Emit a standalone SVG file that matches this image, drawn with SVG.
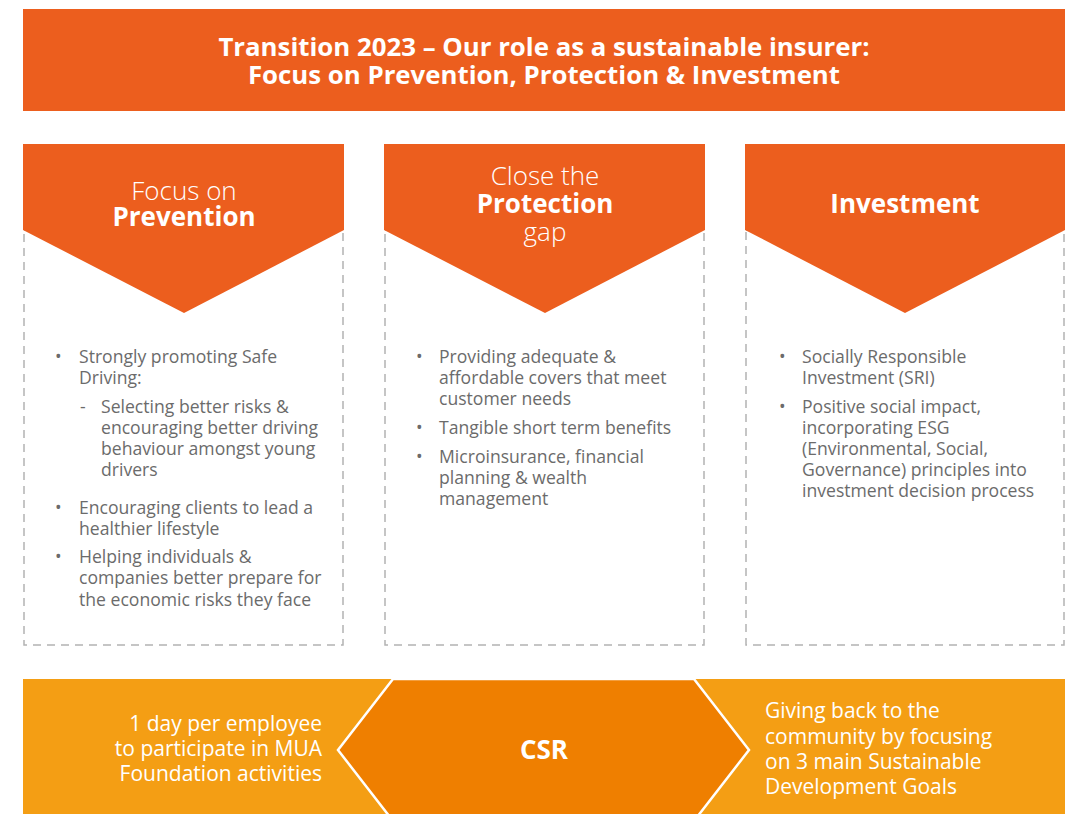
<svg xmlns="http://www.w3.org/2000/svg" width="1083" height="814" viewBox="0 0 1083 814">
  <defs>
    <style>
      .hdr { fill: #EC5E1E; }
      .frame { fill: none; stroke: #B3B3B3; stroke-width: 1.5; stroke-dasharray: 8 6; }
      .title { font-family: "Open Sans", "Liberation Sans", sans-serif; font-weight: 700; font-size: 25.8px; fill: #FFFFFF; text-anchor: middle; }
      .head { font-family: "Open Sans", "Liberation Sans", sans-serif; font-size: 26px; fill: #FFFFFF; text-anchor: middle; }
      .light { font-weight: 300; }
      .bold { font-weight: 700; }
      .body { font-family: "Open Sans", "Liberation Sans", sans-serif; font-size: 17.6px; fill: #6B6B6B; }
      .band { font-family: "Open Sans", "Liberation Sans", sans-serif; font-size: 21px; fill: #FFFFFF; }
      .csr { font-family: "Open Sans", "Liberation Sans", sans-serif; font-size: 26px; font-weight: 700; fill: #FFFFFF; text-anchor: middle; }
    </style>
  </defs>

  <!-- title banner -->
  <g id="title">
    <rect x="23" y="9" width="1042" height="102" class="hdr"/>
    <text class="title"><tspan x="544" y="56">Transition 2023 – Our role as a sustainable insurer:</tspan><tspan x="544" y="84">Focus on Prevention, Protection &amp; Investment</tspan></text>
  </g>

  <!-- column 1: prevention -->
  <g id="prevention">
    <rect x="24" y="230" width="319" height="415" class="frame"/>
    <polygon points="23,144 344,144 344,230 184,313 23,230" class="hdr"/>
    <text class="head"><tspan class="light" x="184" y="200">Focus on</tspan><tspan class="bold" x="184" y="226">Prevention</tspan></text>
    <g class="body">
      <text x="55" y="363">•</text>
      <text><tspan x="79" y="363">Strongly promoting Safe</tspan><tspan x="79" y="384">Driving:</tspan></text>
      <text x="80" y="413">-</text>
      <text><tspan x="101" y="413">Selecting better risks &amp;</tspan><tspan x="101" y="434">encouraging better driving</tspan><tspan x="101" y="455">behaviour amongst young</tspan><tspan x="101" y="476">drivers</tspan></text>
      <text x="55" y="514">•</text>
      <text><tspan x="79" y="514">Encouraging clients to lead a</tspan><tspan x="79" y="535">healthier lifestyle</tspan></text>
      <text x="55" y="563">•</text>
      <text><tspan x="79" y="563">Helping individuals &amp;</tspan><tspan x="79" y="584">companies better prepare for</tspan><tspan x="79" y="606">the economic risks they face</tspan></text>
    </g>
  </g>

  <!-- column 2: protection -->
  <g id="protection">
    <rect x="385" y="230" width="319" height="415" class="frame"/>
    <polygon points="384,144 705,144 705,230 545,313 384,230" class="hdr"/>
    <text class="head"><tspan class="light" x="545" y="185">Close the</tspan><tspan class="bold" x="545" y="213">Protection</tspan><tspan class="light" x="545" y="241">gap</tspan></text>
    <g class="body">
      <text x="416" y="363">•</text>
      <text><tspan x="439" y="363">Providing adequate &amp;</tspan><tspan x="439" y="384">affordable covers that meet</tspan><tspan x="439" y="405">customer needs</tspan></text>
      <text x="416" y="434">•</text>
      <text x="439" y="434">Tangible short term benefits</text>
      <text x="416" y="463">•</text>
      <text><tspan x="439" y="463">Microinsurance, financial</tspan><tspan x="439" y="484">planning &amp; wealth</tspan><tspan x="439" y="505">management</tspan></text>
    </g>
  </g>

  <!-- column 3: investment -->
  <g id="investment">
    <rect x="746" y="230" width="318" height="415" class="frame"/>
    <polygon points="745,144 1065,144 1065,230 905,313 745,230" class="hdr"/>
    <text class="head bold" x="905" y="213">Investment</text>
    <g class="body">
      <text x="779" y="363">•</text>
      <text><tspan x="802" y="363">Socially Responsible</tspan><tspan x="802" y="384">Investment (SRI)</tspan></text>
      <text x="779" y="413">•</text>
      <text><tspan x="802" y="413">Positive social impact,</tspan><tspan x="802" y="434">incorporating ESG</tspan><tspan x="802" y="455">(Environmental, Social,</tspan><tspan x="802" y="476">Governance) principles into</tspan><tspan x="802" y="497">investment decision process</tspan></text>
    </g>
  </g>

  <!-- CSR band -->
  <g id="csr">
    <rect x="23" y="679" width="1042" height="135" fill="#F49E14"/>
    <polygon points="393,679 694,679 749,750 694,821 393,821 338,750" fill="#EF7F00" stroke="#FFFFFF" stroke-width="2.5"/>
    <text class="csr" x="544" y="759">CSR</text>
    <text class="band" text-anchor="end"><tspan x="322" y="731">1 day per employee</tspan><tspan x="322" y="756">to participate in MUA</tspan><tspan x="322" y="781">Foundation activities</tspan></text>
    <text class="band"><tspan x="765" y="718">Giving back to the</tspan><tspan x="765" y="744">community by focusing</tspan><tspan x="765" y="769">on 3 main Sustainable</tspan><tspan x="765" y="794">Development Goals</tspan></text>
  </g>
</svg>
